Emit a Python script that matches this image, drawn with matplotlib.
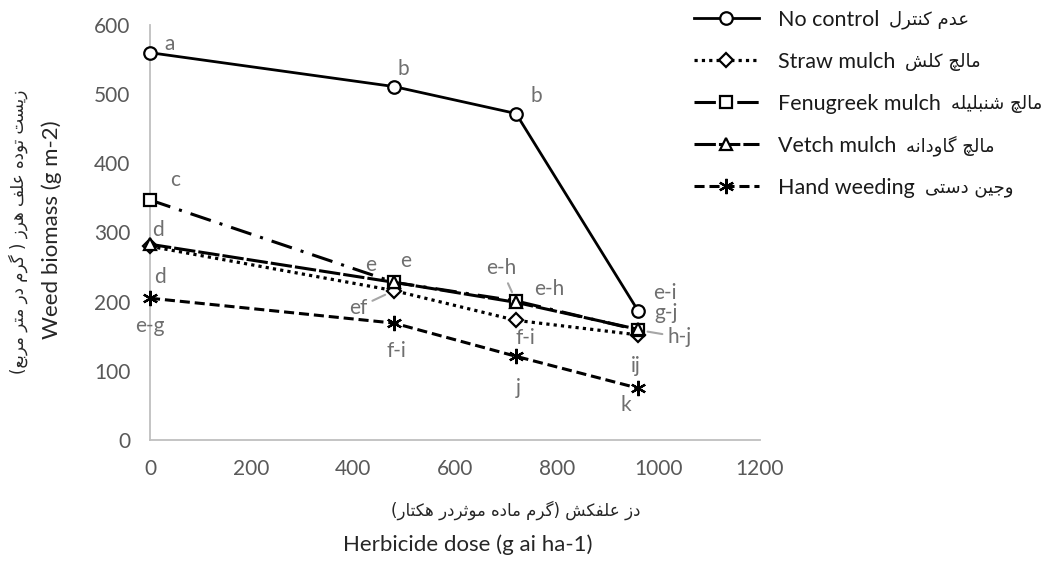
import numpy as np
import matplotlib
matplotlib.use('Agg')
import matplotlib.pyplot as plt

plt.rcParams['font.family'] = ['Lato', 'DejaVu Sans']

# datos
dosis = [0, 480, 720, 960]
sin_control = [560, 511, 472, 187]
mulch_paja = [280, 216, 173, 152]
mulch_fenogreco = [347, 228, 201, 159]
mulch_veza = [283, 228, 199, 160]
deshierbe_manual = [205, 169, 121, 75]

letras_sin_control = ['a', 'b', 'b', 'e-i']
letras_paja = ['d', 'ef', 'f-i', 'ij']
letras_fenogreco = ['c', 'e', 'e-h', 'h-j']
letras_veza = ['d', 'e', 'e-h', 'g-j']
letras_manual = ['e-g', 'f-i', 'j', 'k']

nombres = ['No control', 'Straw mulch', 'Fenugreek mulch', 'Vetch mulch', 'Hand weeding']
nombres_fa = ['عدم کنترل', 'مالچ کلش', 'مالچ شنبلیله', 'مالچ گاودانه', 'وجین دستی']
titulo_x = 'Herbicide dose (g ai ha-1)'
titulo_x_fa = 'دز علفکش (گرم ماده موثردر هکتار)'
titulo_y = 'Weed biomass (g m-2)'
titulo_y_fa = 'زیست توده علف هرز ( گرم در متر مربع)'

# formas de presentacion arabes (iso, fin, ini, med = base + 0..3)
DUAL = {'ب': 0xFE8F, 'ت': 0xFE95, 'ث': 0xFE99, 'ج': 0xFE9D, 'س': 0xFEB1,
        'ش': 0xFEB5, 'ع': 0xFEC9, 'ف': 0xFED1, 'ل': 0xFEDD, 'م': 0xFEE1,
        'ن': 0xFEE5, 'ه': 0xFEE9, 'چ': 0xFB7A, 'ک': 0xFB8E, 'گ': 0xFB92,
        'ی': 0xFBFC}
RIGHT = {'ا': 0xFE8D, 'د': 0xFEA9, 'ر': 0xFEAD, 'ز': 0xFEAF, 'و': 0xFEED,
         'ؤ': 0xFE85}


def fa(texto):
    '''Da forma a las letras persas y las pone en orden visual.'''
    out = []
    for i, ch in enumerate(texto):
        base = DUAL.get(ch, RIGHT.get(ch))
        if base is None:
            out.append(ch)
            continue
        prev = texto[i - 1] if i > 0 else ''
        nxt = texto[i + 1] if i + 1 < len(texto) else ''
        j_prev = prev in DUAL
        j_next = ch in DUAL and (nxt in DUAL or nxt in RIGHT)
        if j_prev and j_next:
            forma = 3
        elif j_prev:
            forma = 1
        elif j_next:
            forma = 2
        else:
            forma = 0
        out.append(chr(base + forma))
    vis = ''.join(reversed(out))
    return vis.translate(str.maketrans('()', ')('))


W, H = 1052, 561
fig = plt.figure(figsize=(W / 100, H / 100), dpi=100)
ax = fig.add_axes([150 / W, (H - 440) / H, 610 / W, 415 / H])

negro = '#000000'
estilos = [
    dict(ls='-', marker='o', ms=9, lw=2.0),
    dict(ls=(0, (1, 1.3)), marker='D', ms=7, lw=2.3),
    dict(ls=(0, (7, 3, 1, 3)), marker='s', ms=9, lw=2.2),
    dict(ls=(0, (7, 1)), marker='^', ms=9, lw=2.2),
    dict(ls=(0, (3.3, 1.6)), marker=(6, 2, 0), ms=11, lw=2.2),
]
series = [sin_control, mulch_paja, mulch_fenogreco, mulch_veza, deshierbe_manual]
zs = [6, 3, 4, 5, 3]

handles = []
for s, est, nom, z in zip(series, estilos, nombres, zs):
    mfc = negro if est['marker'] == (6, 2, 0) else 'white'
    ln, = ax.plot(dosis, s, color=negro, linestyle=est['ls'], lw=est['lw'],
                  marker=est['marker'], ms=est['ms'], mfc=mfc, mec=negro,
                  mew=1.6, clip_on=False, zorder=z, label=nom)
    handles.append(ln)

# letras de comparacion de medias (desplazamientos en pixeles)
gris = '#6f6f6f'
despl = {
    'sin_control': [(20, 9), (9, 18), (20, 18), (27, 18)],
    'paja': [(10, -31), (-36, -17), (9, -18), (-2, -31)],
    'fenogreco': [(25, 20), (12, 21), (-15, 33), (42, -7)],
    'veza': [(8, 14), (-23, 17), (33, 13), (28, 16)],
    'manual': [(0, -28), (2, -28), (2, -32), (-12, -17)],
}
con_linea = {('paja', 1), ('fenogreco', 2), ('fenogreco', 3)}
grupos = [('sin_control', sin_control, letras_sin_control),
          ('paja', mulch_paja, letras_paja),
          ('fenogreco', mulch_fenogreco, letras_fenogreco),
          ('veza', mulch_veza, letras_veza),
          ('manual', deshierbe_manual, letras_manual)]
for clave, vals, letras in grupos:
    for i, (x, y, t) in enumerate(zip(dosis, vals, letras)):
        dx, dy = despl[clave][i]
        flecha = None
        if (clave, i) in con_linea:
            flecha = dict(arrowstyle='-', color='#a6a6a6', lw=1.5,
                          shrinkA=2, shrinkB=7)
        ax.annotate(t, (x, y), xytext=(dx, dy), textcoords='offset pixels',
                    ha='center', va='center', fontsize=15, color=gris,
                    arrowprops=flecha, zorder=7)

ax.set_xlim(0, 1200)
ax.set_ylim(0, 600)
ax.set_xticks(np.arange(0, 1201, 200))
ax.set_yticks(np.arange(0, 601, 100))
for lado in ['top', 'right']:
    ax.spines[lado].set_visible(False)
for lado in ['left', 'bottom']:
    ax.spines[lado].set_color('#bfbfbf')
    ax.spines[lado].set_linewidth(1.3)
ax.tick_params(length=0, labelsize=15, labelcolor='#595959')
ax.tick_params(axis='x', pad=14)
ax.tick_params(axis='y', pad=14)

# titulos de ejes (persa + ingles)
fig.text(516 / W, 1 - 510 / H, fa(titulo_x_fa), family='DejaVu Sans',
         fontsize=12, ha='center', va='center', color='#262626')
fig.text(468 / W, 1 - 545 / H, titulo_x, fontsize=16, ha='center',
         va='center', color='#262626')
fig.text(18 / W, 1 - 232 / H, fa(titulo_y_fa), family='DejaVu Sans',
         fontsize=12, ha='center', va='center', rotation=90, color='#262626')
fig.text(52 / W, 1 - 230 / H, titulo_y, fontsize=16, ha='center',
         va='center', rotation=90, color='#262626')

leg = fig.legend(handles=handles, loc='upper left',
                 bbox_to_anchor=(694 / W, 1 - 10 / H), frameon=False,
                 fontsize=15.5, labelcolor='#1a1a1a', handlelength=3.0,
                 handletextpad=0.9, labelspacing=1.02, borderpad=0,
                 borderaxespad=0)

# nombres en persa a la derecha de cada entrada de la leyenda
fig.canvas.draw()
rend = fig.canvas.get_renderer()
for txt, nom_fa in zip(leg.get_texts(), nombres_fa):
    bb = txt.get_window_extent(rend)
    fig.text((bb.x1 + 10) / W, (bb.y0 + bb.y1) / 2 / H, fa(nom_fa),
             family='DejaVu Sans', fontsize=13, ha='left', va='center',
             color='#1a1a1a')

fig.savefig('out.png', dpi=100)
